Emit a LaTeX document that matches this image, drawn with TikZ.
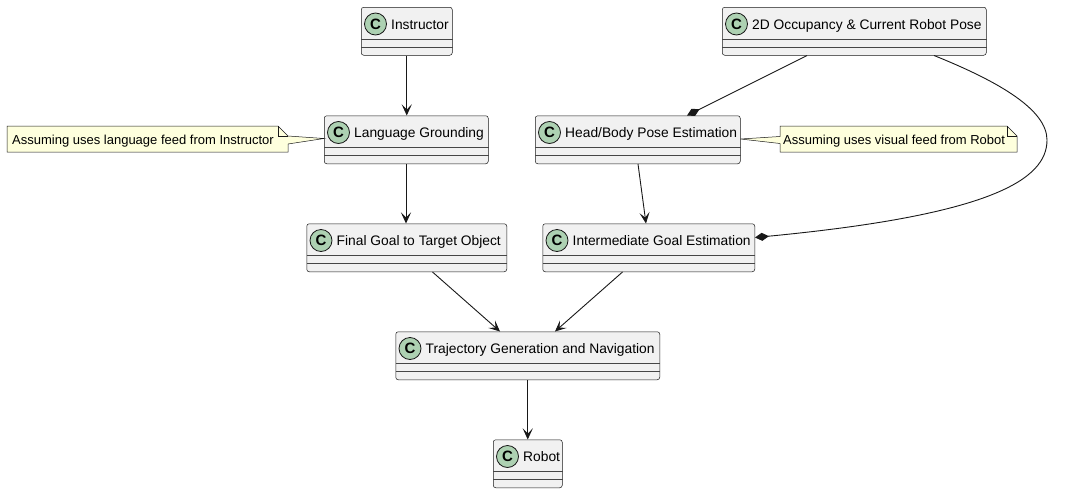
\documentclass[tikz,border=0pt]{standalone}
\usepackage{fontspec}
\setmainfont{Liberation Sans}
\usetikzlibrary{arrows.meta}
\definecolor{boxfill}{HTML}{F1F1F1}
\definecolor{ink}{HTML}{181818}
\definecolor{circfill}{HTML}{ADD1B2}
\definecolor{notefill}{HTML}{FEFFDD}
\tikzset{
  classbox/.style={draw=ink, fill=boxfill, line width=0.5pt, rounded corners=2.5pt, anchor=north west, inner sep=0pt, minimum height=48pt},
  divline/.style={draw=ink!80, line width=0.45pt},
  cbadge/.style={circle, draw=ink, fill=circfill, line width=0.8pt, minimum size=22pt, inner sep=0pt, font=\fontsize{15}{15}\selectfont\bfseries},
  ctext/.style={anchor=base west, inner sep=0pt, font=\fontsize{13.8}{16}\selectfont, text=black},
  flow/.style={draw=ink, line width=0.9pt, -{Stealth[length=11pt,width=10pt,inset=5pt]}},
  comp/.style={draw=ink, line width=0.9pt, -{Diamond[length=14pt,width=8pt]}},
  notebox/.style={draw=ink, fill=notefill, line width=0.5pt, line join=miter},
  notetext/.style={anchor=base west, inner sep=0pt, font=\fontsize{13}{15}\selectfont, text=black},
}
\newcommand\umlclass[5]{%
  \node[classbox, minimum width=#4pt] (#1) at (#2,#3) {};
  \draw[divline] ([yshift=-32pt]#1.north west) -- ([yshift=-32pt]#1.north east);
  \draw[divline] ([yshift=-40pt]#1.north west) -- ([yshift=-40pt]#1.north east);
  \node[cbadge] (#1c) at ([xshift=14.5pt,yshift=-17pt]#1.north west) {C};
  \node[ctext] (#1t) at ([xshift=30pt,yshift=-22pt]#1.north west) {#5};
}
\begin{document}
\begin{tikzpicture}[x=1pt,y=-1pt]
\useasboundingbox (0,0) rectangle (1080,493);

\umlclass{instr}{361}{7}{91}{Instructor}
\umlclass{occ}{722}{7}{264}{2D Occupancy \& Current Robot Pose}
\umlclass{lang}{324}{115.5}{164}{Language Grounding}
\umlclass{head}{535}{115.5}{205}{Head/Body Pose Estimation}
\umlclass{final}{306.5}{223.5}{200}{Final Goal to Target Object}
\umlclass{inter}{542.5}{223.5}{212}{Intermediate Goal Estimation}
\umlclass{traj}{395.5}{331.5}{264}{Trajectory Generation and Navigation}
\umlclass{robot}{493}{439.5}{69}{Robot}

% left note
\coordinate (ltip) at ([yshift=-23pt]lang.north west);
\draw[notebox] (7,126) -- (278,126) -- (288,136) -- (ltip) -- (288,144) -- (288,152) -- (7,152) -- cycle;
\draw[notebox, fill=none] (278,126) -- (278,136) -- (288,136);
\node[notetext] (note1) at (12,144) {Assuming uses language feed from Instructor};

% right note
\coordinate (rtip) at ([yshift=-23.5pt]head.north east);
\draw[notebox] (780,126) -- (1007,126) -- (1017,136) -- (1017,152) -- (780,152) -- (780,143.5) -- (rtip) -- (780,136.5) -- cycle;
\draw[notebox, fill=none] (1007,126) -- (1007,136) -- (1017,136);
\node[notetext] (note2) at (783,144) {Assuming uses visual feed from Robot};

% connectors
\draw[flow] (instr.south) -- (lang.north -| instr.south);
\draw[flow] ([xshift=82pt]lang.south west) -- ([xshift=99.5pt]final.north west);
\draw[comp] ([xshift=85pt]occ.south west) -- ([xshift=152pt]head.north west);
\draw[comp] ([xshift=212pt]occ.south west) .. controls (1000,82) and (1047,110) .. (1047,140)
   .. controls (1047,180) and (990,215) .. ([yshift=-14pt]inter.north east);
\draw[flow] ([xshift=103pt]head.south west) -- ([xshift=103.5pt]inter.north west);
\draw[flow] ([xshift=126pt]final.south west) -- ([xshift=104.5pt]traj.north west);
\draw[flow] ([xshift=80pt]inter.south west) -- ([xshift=159.5pt]traj.north west);
\draw[flow] (traj.south -| robot.north) -- (robot.north);
\end{tikzpicture}
\end{document}
